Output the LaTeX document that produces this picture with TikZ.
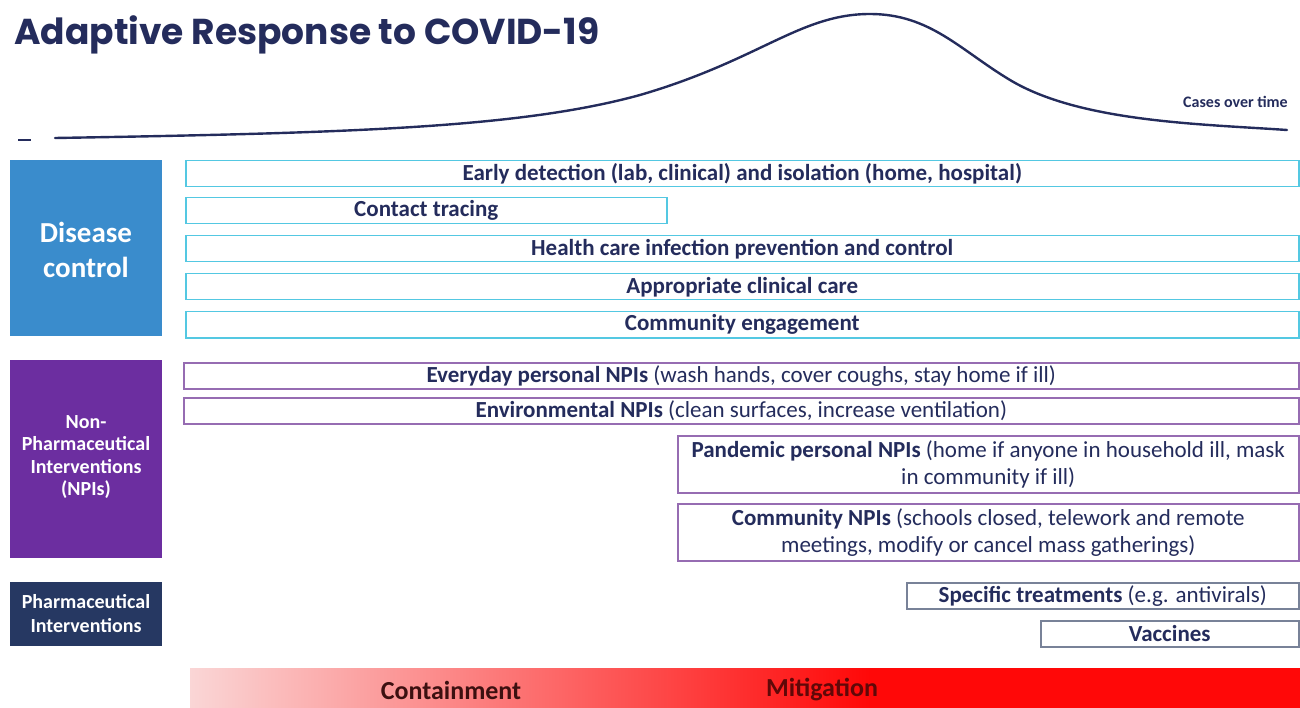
\documentclass[tikz,border=0pt]{standalone}
\usepackage{fontspec}
\setmainfont{Carlito}
\newfontfamily\titlefont{Poppins}

\definecolor{navytext}{RGB}{36,44,92}
\definecolor{diseaseblue}{RGB}{58,140,204}
\definecolor{cyanline}{RGB}{84,200,226}
\definecolor{npipurple}{RGB}{108,46,160}
\definecolor{npiline}{RGB}{150,108,178}
\definecolor{pharmanavy}{RGB}{38,56,98}
\definecolor{pharmaline}{RGB}{120,130,152}
\definecolor{palered}{RGB}{250,214,214}
\definecolor{barred}{RGB}{255,8,8}

\tikzset{
  catbox/.style={anchor=center, inner sep=0pt, text=white, align=center},
  itembox/.style={draw, fill=white, line width=1.5pt, anchor=north west, inner sep=0pt,
    text=navytext, align=center, font=\fontsize{23}{27}\selectfont},
  cyanbox/.style={itembox, draw=cyanline},
  npibox/.style={itembox, draw=npiline},
  rxbox/.style={itembox, draw=pharmaline},
  phase/.style={font=\fontsize{26}{30}\selectfont\bfseries}
}

\begin{document}
\begin{tikzpicture}[x=1pt,y=-1pt]

  \useasboundingbox (0,0) rectangle (1300,708);

  % Title and epidemic curve
  \node[anchor=base west, inner sep=0pt, text=navytext, font=\titlefont\fontsize{36}{40}\selectfont\bfseries]
    (title) at (14,45) {Adaptive Response to COVID-19};
  \draw[navytext, line width=2.2pt] (18,140) -- (31,140);
  \draw[navytext, line width=2.4pt, line cap=round]
    (55,138) .. controls (350,133) and (520,128) .. (640,95)
             .. controls (760,60) and (800,14) .. (870,14)
             .. controls (930,14) and (960,50) .. (1010,80)
             .. controls (1080,122) and (1200,124) .. (1287,130);
  \node[anchor=base east, inner sep=0pt, text=navytext, font=\fontsize{16}{18}\selectfont\bfseries]
    (cases) at (1288,108) {Cases over time};

  % Disease control
  \fill[diseaseblue] (10,160) rectangle (162,336);
  \node[catbox, font=\fontsize{29}{35}\selectfont\bfseries] (disease) at (86,250) {Disease\\control};
  \node[cyanbox, minimum width=1113pt, minimum height=26pt] (detect) at (185,160)
    {\textbf{Early detection (lab, clinical) and isolation (home, hospital)}};
  \node[cyanbox, minimum width=481pt, minimum height=26pt] (tracing) at (185,197)
    {\textbf{Contact tracing}};
  \node[cyanbox, minimum width=1113pt, minimum height=26pt] (ipc) at (185,235)
    {\textbf{Health care infection prevention and control}};
  \node[cyanbox, minimum width=1113pt, minimum height=26pt] (care) at (185,273)
    {\textbf{Appropriate clinical care}};
  \node[cyanbox, minimum width=1113pt, minimum height=26pt] (engage) at (185,311)
    {\textbf{Community engagement}};

  % Non-pharmaceutical interventions
  \fill[npipurple] (10,360) rectangle (162,558);
  \node[catbox, font=\fontsize{20}{22.5}\selectfont\bfseries] (npis) at (86,457)
    {Non-\\Pharmaceutical\\Interventions\\(NPIs)};
  \node[npibox, minimum width=1115pt, minimum height=26pt] (everyday) at (183,362)
    {\textbf{Everyday personal NPIs} (wash hands, cover coughs, stay home if ill)};
  \node[npibox, minimum width=1115pt, minimum height=26pt] (environ) at (183,397)
    {\textbf{Environmental NPIs} (clean surfaces, increase ventilation)};
  \node[npibox, minimum width=621pt, minimum height=57pt] (pandemic) at (677,435)
    {\textbf{Pandemic personal NPIs} (home if anyone in household ill, mask\\in community if ill)};
  \node[npibox, minimum width=621pt, minimum height=57pt] (community) at (677,503)
    {\textbf{Community NPIs} (schools closed, telework and remote\\meetings, modify or cancel mass gatherings)};

  % Pharmaceutical interventions
  \fill[pharmanavy] (10,582) rectangle (162,646);
  \node[catbox, font=\fontsize{20}{24}\selectfont\bfseries] (pharma) at (86,614)
    {Pharmaceutical\\Interventions};
  \node[rxbox, minimum width=392pt, minimum height=26pt] (treat) at (906,582)
    {\textbf{Specific treatments} (e.g. antivirals)};
  \node[rxbox, minimum width=258pt, minimum height=26pt] (vaccine) at (1040,620)
    {\textbf{Vaccines}};

  % Containment to mitigation
  \shade[left color=palered, right color=barred] (190,668) rectangle (870,708);
  \fill[barred] (869,668) rectangle (1300,708);
  \node[phase, text={rgb,255:red,60;green,16;blue,16}] (contain) at (451,690) {Containment};
  \node[phase, text={rgb,255:red,96;green,8;blue,8}] (mitig) at (822,690) {Mitigation};

\end{tikzpicture}
\end{document}
